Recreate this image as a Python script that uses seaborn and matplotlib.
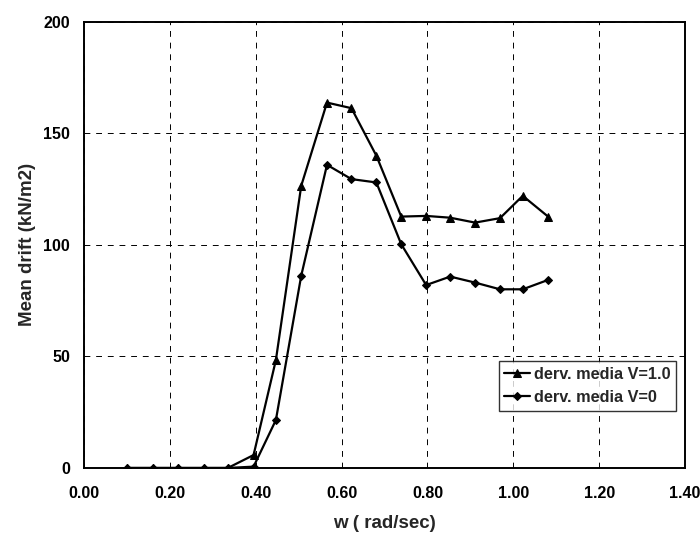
import pandas as pd
import seaborn as sns
import matplotlib.pyplot as plt

# Values
w = [0.10, 0.16, 0.22, 0.28, 0.335, 0.395, 0.447, 0.506, 0.566, 0.623,
     0.681, 0.739, 0.797, 0.853, 0.911, 0.969, 1.022, 1.081]
drift_v1 = [0, 0, 0, 0, 0, 5.8, 48.4, 126.5, 163.8, 161.3,
            140, 112.7, 113, 112.2, 110, 112, 122, 112.7]
drift_v0 = [0, 0, 0, 0, 0, 0.6, 21.5, 86.2, 135.9, 129.5,
            128, 100.3, 82, 85.8, 83.1, 80.1, 80.1, 84.3]
x_ticks = [0.0, 0.2, 0.4, 0.6, 0.8, 1.0, 1.2, 1.4]
y_ticks = [0, 50, 100, 150, 200]

sns.set_style('white')
plt.rcParams['font.family'] = ['Liberation Sans', 'DejaVu Sans']
plt.rcParams['font.weight'] = 'bold'


def main():
    df = pd.DataFrame({'w': w, 'v1': drift_v1, 'v0': drift_v0})
    fig = plt.figure(figsize=(7, 5.33), dpi=100)
    ax = fig.add_axes([0.12, 0.122, 0.8586, 0.837])

    sns.lineplot(x='w', y='v1', data=df, ax=ax, color='black', lw=1.6,
                 marker='^', markersize=6, markeredgecolor='black',
                 label='derv. media V=1.0')
    sns.lineplot(x='w', y='v0', data=df, ax=ax, color='black', lw=1.6,
                 marker='D', markersize=4.5, markeredgecolor='black',
                 label='derv. media V=0')

    ax.set_xlim(0, 1.4)
    ax.set_ylim(0, 200)
    ax.set_xticks(x_ticks)
    ax.set_xticklabels(['%.2f' % t for t in x_ticks])
    ax.set_yticks(y_ticks)
    ax.tick_params(axis='both', labelsize=11.5, length=4, width=0.8,
                   direction='out', colors='black', pad=6)
    ax.tick_params(axis='x', length=3, pad=10)
    ax.grid(True, color='black', linestyle=(0, (6, 6)), linewidth=0.7)
    for s in ax.spines.values():
        s.set_visible(True)
        s.set_color('black')
        s.set_linewidth(1.4)

    ax.set_xlabel('w ( rad/sec)', fontsize=13.5, fontweight='bold',
                  labelpad=10)
    ax.set_ylabel('Mean drift (kN/m2)', fontsize=13.5, fontweight='bold',
                  labelpad=5)

    leg = ax.legend(loc='lower right', bbox_to_anchor=(0.985, 0.128),
                    fontsize=11.7, frameon=True, fancybox=False,
                    handlelength=1.6, handletextpad=0.2, borderpad=0.35,
                    labelspacing=0.5, borderaxespad=0)
    leg.get_frame().set_edgecolor('black')
    leg.get_frame().set_linewidth(1.0)
    for t in leg.get_texts():
        t.set_fontweight('bold')

    plt.savefig('out.png', dpi=100)


if __name__ == '__main__':
    main()
